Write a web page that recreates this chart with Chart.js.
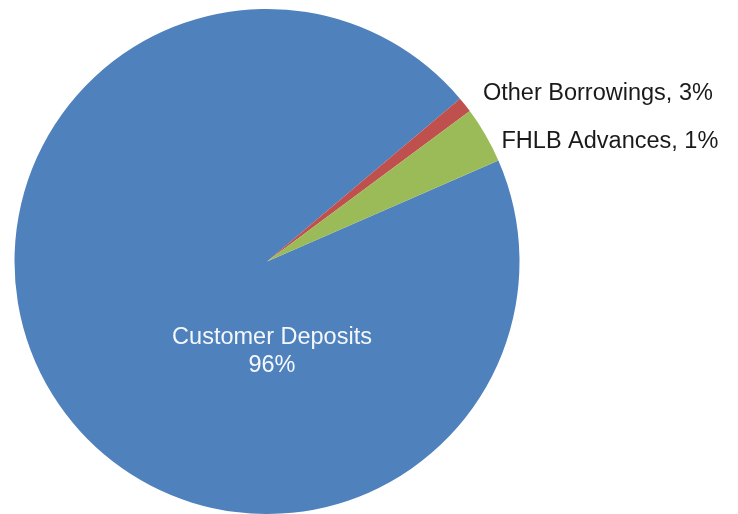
<!DOCTYPE html>
<html>
<head>
<meta charset="utf-8">
<script src="https://cdn.jsdelivr.net/npm/chart.js@4"></script>
<style>
  html, body { margin: 0; padding: 0; background: #fff; }
  #wrap { width: 738px; height: 514px; position: relative; }
</style>
</head>
<body>
<div id="wrap"><canvas id="pieChart"></canvas></div>
<script>
// slice data (angles), and the label texts shown on it
const categories = ['Customer Deposits', 'Other Borrowings', 'FHLB Advances'];
const values = [95.4, 1.0, 3.6];
const labelPercents = ['96%', '3%', '1%'];

const colors = ['#4F81BD', '#C0504D', '#9BBB59'];

// label drawing: the big slice gets an inside label, the small ones go outside
const sliceLabels = {
    id: 'sliceLabels',
    afterDatasetsDraw(chart) {
        const ctx = chart.ctx;
        const arcs = chart.getDatasetMeta(0).data;
        ctx.save();
        ctx.font = "23.5px 'Liberation Sans', Arial, sans-serif";
        ctx.textBaseline = 'middle';

        // inside label
        const a0 = arcs[0];
        ctx.fillStyle = '#f4f8fc';
        ctx.textAlign = 'center';
        ctx.fillText(categories[0], a0.x + 5, a0.y + 76);
        ctx.fillText(labelPercents[0], a0.x + 5, a0.y + 104);

        // outside labels
        const offs = [null, [18, -11], [16, 7]];
        ctx.fillStyle = '#1a1a1a';
        ctx.textAlign = 'left';
        for (let i = 1; i < arcs.length; i++) {
            const a = arcs[i];
            const mid = (a.startAngle + a.endAngle) / 2;
            const px = a.x + Math.cos(mid) * a.outerRadius;
            const py = a.y + Math.sin(mid) * a.outerRadius;
            ctx.fillText(categories[i] + ', ' + labelPercents[i], px + offs[i][0], py + offs[i][1]);
        }
        ctx.restore();
    }
};

new Chart(document.getElementById('pieChart').getContext('2d'), {
    type: 'pie',
    data: { labels: categories, datasets: [{ data: values, backgroundColor: colors, borderWidth: 0 }] },
    options: {
        responsive: true, maintainAspectRatio: false, animation: false,
        rotation: 66.4,
        layout: { padding: { top: 9, bottom: 0, left: 0, right: 204 } },
        plugins: { legend: { display: false }, tooltip: { enabled: false } }
    },
    plugins: [sliceLabels]
});
</script>
</body>
</html>
